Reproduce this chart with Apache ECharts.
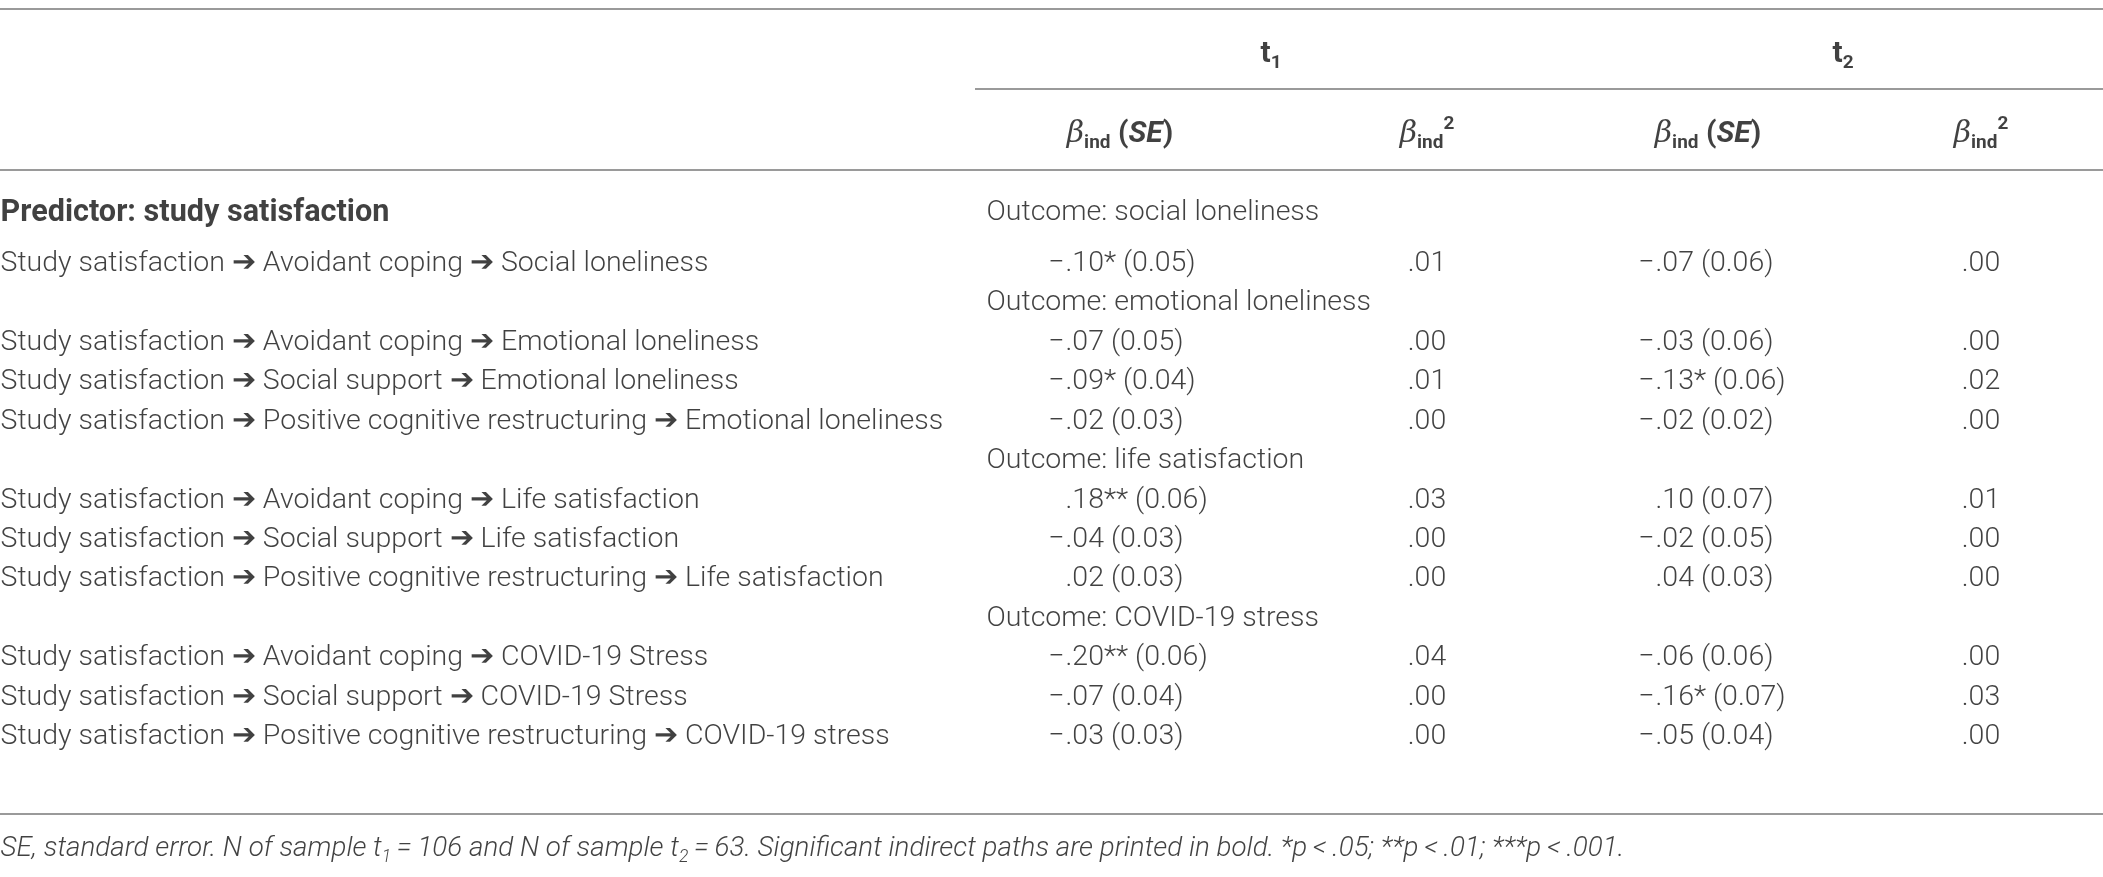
<!DOCTYPE html>
<html>
<head>
<meta charset="utf-8">
<script src="https://cdn.jsdelivr.net/npm/echarts@6/dist/echarts.min.js"></script>
<style>
html,body{margin:0;padding:0;background:#fff;}
#chart{width:2103px;height:877px;}
</style>
</head>
<body>
<div id="chart"></div>
<script>
// ---------- DATA ----------
const predictorLabel = "Predictor: study satisfaction";
const outcomes = ["Outcome: social loneliness", "Outcome: emotional loneliness", "Outcome: life satisfaction", "Outcome: COVID-19 stress"];
const paths = [
  "Study satisfaction \u2794 Avoidant coping \u2794 Social loneliness",
  "Study satisfaction \u2794 Avoidant coping \u2794 Emotional loneliness",
  "Study satisfaction \u2794 Social support \u2794 Emotional loneliness",
  "Study satisfaction \u2794 Positive cognitive restructuring \u2794 Emotional loneliness",
  "Study satisfaction \u2794 Avoidant coping \u2794 Life satisfaction",
  "Study satisfaction \u2794 Social support \u2794 Life satisfaction",
  "Study satisfaction \u2794 Positive cognitive restructuring \u2794 Life satisfaction",
  "Study satisfaction \u2794 Avoidant coping \u2794 COVID-19 Stress",
  "Study satisfaction \u2794 Social support \u2794 COVID-19 Stress",
  "Study satisfaction \u2794 Positive cognitive restructuring \u2794 COVID-19 stress"
];
const t1Beta  = [-0.10, -0.07, -0.09, -0.02, 0.18, -0.04, 0.02, -0.20, -0.07, -0.03];
const t1Stars = ["*", "", "*", "", "**", "", "", "**", "", ""];
const t1SE    = [0.05, 0.05, 0.04, 0.03, 0.06, 0.03, 0.03, 0.06, 0.04, 0.03];
const t1Beta2 = [0.01, 0.00, 0.01, 0.00, 0.03, 0.00, 0.00, 0.04, 0.00, 0.00];
const t2Beta  = [-0.07, -0.03, -0.13, -0.02, 0.10, -0.02, 0.04, -0.06, -0.16, -0.05];
const t2Stars = ["", "", "*", "", "", "", "", "", "*", ""];
const t2SE    = [0.06, 0.06, 0.06, 0.02, 0.07, 0.05, 0.03, 0.06, 0.07, 0.04];
const t2Beta2 = [0.00, 0.00, 0.02, 0.00, 0.01, 0.00, 0.00, 0.00, 0.03, 0.00];
const timeHeaders = ["1", "2"];          // t subscripts
const footnoteParts = ["SE, standard error. N of sample t", "1", "\u2009=\u2009106 and N of sample t", "2", "\u2009=\u200963. Significant indirect paths are printed in bold. *p\u2009<\u2009.05; **p\u2009<\u2009.01; ***p\u2009<\u2009.001."];

// row indices (table row units)
const outcomeRows = [0, 2, 6, 10];
const pathRows = [1, 3, 4, 5, 7, 8, 9, 11, 12, 13];

// ---------- LAYOUT ----------
const FONT = "Roboto";
const FS = 28.5;
const HFS = 30;
const COLOR = "#111";
const RULE = "#9a9a9a";
const COL = { label: 0, outcome: 986, t1dot: 1065, t1b2: 1427, t2dot: 1655, t2b2: 1981, t1head: 1271, t2head: 1843,
              t1se: 1120, t2se: 1708, ruleStart: 975, right: 2103 };
const ROWPOS = { topRule: -5.38, tHead: -4.24, midRule: -3.354, subHead: -2.215, headRule: -1.304, first: -0.21, bottomRule: 15.0, foot: 15.9 };
const ROW_SHIFT = 0.06;
function rowY(r) { return r === 0 ? ROWPOS.first : r + ROW_SHIFT; }

function fmtNum(v) { return Math.abs(v).toFixed(2).replace(/^0/, ""); }

const chart = echarts.init(document.getElementById('chart'), null, { renderer: 'canvas' });

const baseLabel = { show: true, color: COLOR, fontFamily: FONT, fontSize: FS, fontWeight: 300 };
function textSeries(name, data, formatter, position, extraLabel) {
  return {
    type: 'scatter', name: name, symbolSize: 1, silent: true,
    itemStyle: { color: 'rgba(0,0,0,0)' },
    data: data,
    label: Object.assign({}, baseLabel, { position: position, distance: 0, formatter: formatter }, extraLabel || {})
  };
}

const richCommon = {
  b:   { fontFamily: FONT, fontSize: HFS, fontWeight: 'bold', color: COLOR, lineHeight: 38 },
  bi:  { fontFamily: FONT, fontSize: HFS, fontWeight: 'bold', fontStyle: 'italic', color: COLOR, lineHeight: 38 },
  gi:  { fontFamily: 'DejaVu Serif', fontSize: HFS, fontStyle: 'italic', color: COLOR, lineHeight: 38 },
  sub: { fontFamily: FONT, fontSize: 19, fontWeight: 'bold', color: COLOR, lineHeight: 19, verticalAlign: 'bottom' },
  sup: { fontFamily: FONT, fontSize: 19, fontWeight: 'bold', color: COLOR, lineHeight: 19, verticalAlign: 'top' }
};
const richFoot = {
  i:   { fontFamily: FONT, fontSize: 27.8, fontStyle: 'italic', fontWeight: 300, color: COLOR, lineHeight: 34 },
  is:  { fontFamily: FONT, fontSize: 17.5, fontStyle: 'italic', fontWeight: 300, color: COLOR, lineHeight: 17, verticalAlign: 'bottom' }
};

const rules = [
  [{ coord: [COL.label, ROWPOS.topRule] }, { coord: [COL.right, ROWPOS.topRule] }],
  [{ coord: [COL.ruleStart, ROWPOS.midRule] }, { coord: [COL.right, ROWPOS.midRule] }],
  [{ coord: [COL.label, ROWPOS.headRule] }, { coord: [COL.right, ROWPOS.headRule] }],
  [{ coord: [COL.label, ROWPOS.bottomRule] }, { coord: [COL.right, ROWPOS.bottomRule] }]
];

const series = [
  Object.assign(textSeries('paths', paths.map((p, i) => [COL.label, rowY(pathRows[i])]), p => paths[p.dataIndex], 'right'), {
    markLine: { silent: true, symbol: ['none', 'none'], label: { show: false },
      lineStyle: { color: RULE, width: 2, type: 'solid' }, animation: false, data: rules }
  }),
  textSeries('predictor', [[COL.label, ROWPOS.first]], () => predictorLabel, 'right', { fontWeight: 'bold', fontSize: 30.6 }),
  textSeries('outcomes', outcomes.map((o, i) => [COL.outcome, rowY(outcomeRows[i])]), p => outcomes[p.dataIndex], 'right'),
  // t1
  textSeries('t1sign', t1Beta.map((v, i) => [COL.t1dot, rowY(pathRows[i])]), p => (t1Beta[p.dataIndex] < 0 ? "\u2212" : ""), 'left'),
  textSeries('t1rest', t1Beta.map((v, i) => [COL.t1dot, rowY(pathRows[i])]), p => {
    const i = p.dataIndex; return fmtNum(t1Beta[i]) + t1Stars[i] + " (" + t1SE[i].toFixed(2) + ")"; }, 'right'),
  textSeries('t1b2', t1Beta2.map((v, i) => [COL.t1b2, rowY(pathRows[i])]), p => fmtNum(t1Beta2[p.dataIndex]), 'inside'),
  // t2
  textSeries('t2sign', t2Beta.map((v, i) => [COL.t2dot, rowY(pathRows[i])]), p => (t2Beta[p.dataIndex] < 0 ? "\u2212" : ""), 'left'),
  textSeries('t2rest', t2Beta.map((v, i) => [COL.t2dot, rowY(pathRows[i])]), p => {
    const i = p.dataIndex; return fmtNum(t2Beta[i]) + t2Stars[i] + " (" + t2SE[i].toFixed(2) + ")"; }, 'right'),
  textSeries('t2b2', t2Beta2.map((v, i) => [COL.t2b2, rowY(pathRows[i])]), p => fmtNum(t2Beta2[p.dataIndex]), 'inside'),
  // headers
  textSeries('thead', [[COL.t1head, ROWPOS.tHead], [COL.t2head, ROWPOS.tHead]],
    p => '{b|t}{sub|' + timeHeaders[p.dataIndex] + '}', 'inside', { rich: richCommon }),
  textSeries('subhead', [[COL.t1se, ROWPOS.subHead], [COL.t1b2, ROWPOS.subHead], [COL.t2se, ROWPOS.subHead], [COL.t2b2, ROWPOS.subHead]],
    p => (p.dataIndex % 2 === 0 ? '{gi|\u03B2}{sub|ind}{b| (}{bi|SE}{b|)}' : '{gi|\u03B2}{sub|ind}{sup|2}'), 'inside', { rich: richCommon }),
  textSeries('footnote', [[COL.label, ROWPOS.foot]],
    () => '{i|' + footnoteParts[0] + '}{is|' + footnoteParts[1] + '}{i|' + footnoteParts[2] + '}{is|' + footnoteParts[3] + '}{i|' + footnoteParts[4] + '}',
    'right', { rich: richFoot })
];

chart.setOption({
  animation: false,
  backgroundColor: '#ffffff',
  grid: { left: 0, right: 0, top: 0, bottom: 0 },
  xAxis: { type: 'value', min: 0, max: COL.right, show: false },
  yAxis: { type: 'value', inverse: true, min: -5.608, max: 16.595, show: false },
  series: series
});
</script>
</body>
</html>
